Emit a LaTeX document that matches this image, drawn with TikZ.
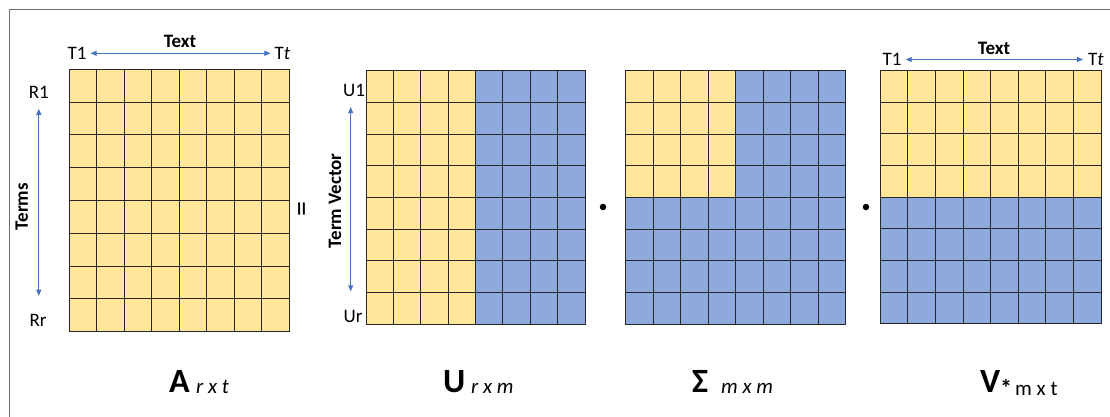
\documentclass[tikz,border=0pt]{standalone}
\usepackage{fontspec}
\setmainfont{Carlito}
\usetikzlibrary{arrows.meta}
\definecolor{cellyellow}{RGB}{255,230,153}
\definecolor{cellblue}{RGB}{142,169,219}
\definecolor{arrowblue}{RGB}{68,114,196}
\definecolor{framegray}{RGB}{110,110,110}
\tikzset{
  lbl/.style={inner sep=0pt, font=\fontsize{19}{21}\selectfont},
  blbl/.style={inner sep=0pt, font=\bfseries\fontsize{19}{21}\selectfont},
  arr/.style={draw=arrowblue, line width=0.9pt, {Triangle[length=6pt,width=5pt]}-{Triangle[length=6pt,width=5pt]}},
  gridline/.style={draw=black!85, line width=1pt},
  biglbl/.style={inner sep=0pt, anchor=base west, font=\bfseries\fontsize{34}{36}\selectfont},
  sublbl/.style={inner sep=0pt, anchor=base west, font=\itshape\fontsize{21}{23}\selectfont},
  dotmark/.style={circle, fill=black, inner sep=0pt, minimum size=6.5pt},
}
\newcommand\cellgrid[4]{%
  \foreach \i in {1,...,7} {
    \draw[gridline] ({#1+(#3-#1)*\i/8},#2) -- ({#1+(#3-#1)*\i/8},#4);
    \draw[gridline] (#1,{#2+(#4-#2)*\i/8}) -- (#3,{#2+(#4-#2)*\i/8});
  }
  \draw[gridline] (#1,#2) rectangle (#3,#4);
}
\begin{document}
\begin{tikzpicture}[x=1pt,y=-1pt]
\useasboundingbox (0,0) rectangle (1110,417);
\fill[white] (0,0) rectangle (1110,417);
% frame
\draw[framegray, line width=1pt] (9,417) -- (9,10) -- (1110,10);

% matrix A
\fill[cellyellow] (69.3,69.3) rectangle (289.3,331.7);
\cellgrid{69.3}{69.3}{289.3}{331.7}
% matrix U
\fill[cellyellow] (366,71) rectangle (475.6,324);
\fill[cellblue] (475.6,71) rectangle (585,324);
\cellgrid{366}{71}{585}{324}
% matrix Sigma
\fill[cellblue] (625.7,71) rectangle (845.7,324);
\fill[cellyellow] (625.7,71) rectangle (735.7,197.5);
\cellgrid{625.7}{71}{845.7}{324}
% matrix V
\fill[cellblue] (880.3,70.7) rectangle (1101,323.7);
\fill[cellyellow] (880.3,70.7) rectangle (1101,197.2);
\cellgrid{880.3}{70.7}{1101}{323.7}

% labels of A
\node[lbl] (AT1) at (77,53.3) {T1};
\node[blbl] (ATxt) at (180,41.2) {Text};
\node[lbl] (ATt) at (282.5,53.3) {T\textit{t}};
\draw[arr, shorten <=4pt, shorten >=4pt] (AT1.east) -- (ATt.west |- AT1.east);
\node[lbl] (R1) at (38.8,92.5) {R1};
\node[lbl] (Rr) at (38,320) {Rr};
\draw[arr, shorten <=10pt, shorten >=18pt] (R1.south) -- (R1.south |- Rr.north);
\node[blbl, rotate=90] (terms) at (21.7,206.7) {Terms};

% equals
\node[inner sep=0pt, rotate=90, font=\fontsize{30}{30}\selectfont] (eq) at (305,209) {=};

% labels of U
\node[lbl] (U1) at (354,90) {U1};
\node[lbl] (Ur) at (353,316) {Ur};
\draw[arr, shorten <=10.7pt, shorten >=18.3pt] ([xshift=-3.3pt]U1.south) -- ([xshift=-3.3pt]U1.south |- Ur.north);
\node[blbl, rotate=90] (tvec) at (335,200.8) {Term Vector};

% dots
\node[dotmark] (d1) at (603,207) {};
\node[dotmark] (d2) at (866,207) {};

% labels of V
\node[lbl] (VT1) at (892,59.5) {T1};
\node[blbl] (VTxt) at (994,48) {Text};
\node[lbl] (VTt) at (1096,59.5) {T\textit{t}};
\draw[arr, shorten <=4pt, shorten >=5pt] (VT1.east) -- (VTt.west |- VT1.east);

% bottom labels
\node[biglbl] (Alab) at (169,392) {A};
\node[sublbl] (Asub) at (196,393) {r x t};
\node[biglbl] (Ulab) at (443,392) {U};
\node[sublbl] (Usub) at (471,393) {r x m};
\node[biglbl] (Slab) at (692,392) {Σ};
\node[sublbl] (Ssub) at (721,393) {m x m};
\node[biglbl] (Vlab) at (980,392) {V};
\node[inner sep=0pt, font=\bfseries\fontsize{24}{24}\selectfont] (Vstar) at (1006,388) {*};
\node[sublbl, font=\fontsize{21}{23}\selectfont] (Vsub) at (1015,395) {m x t};
\end{tikzpicture}
\end{document}
